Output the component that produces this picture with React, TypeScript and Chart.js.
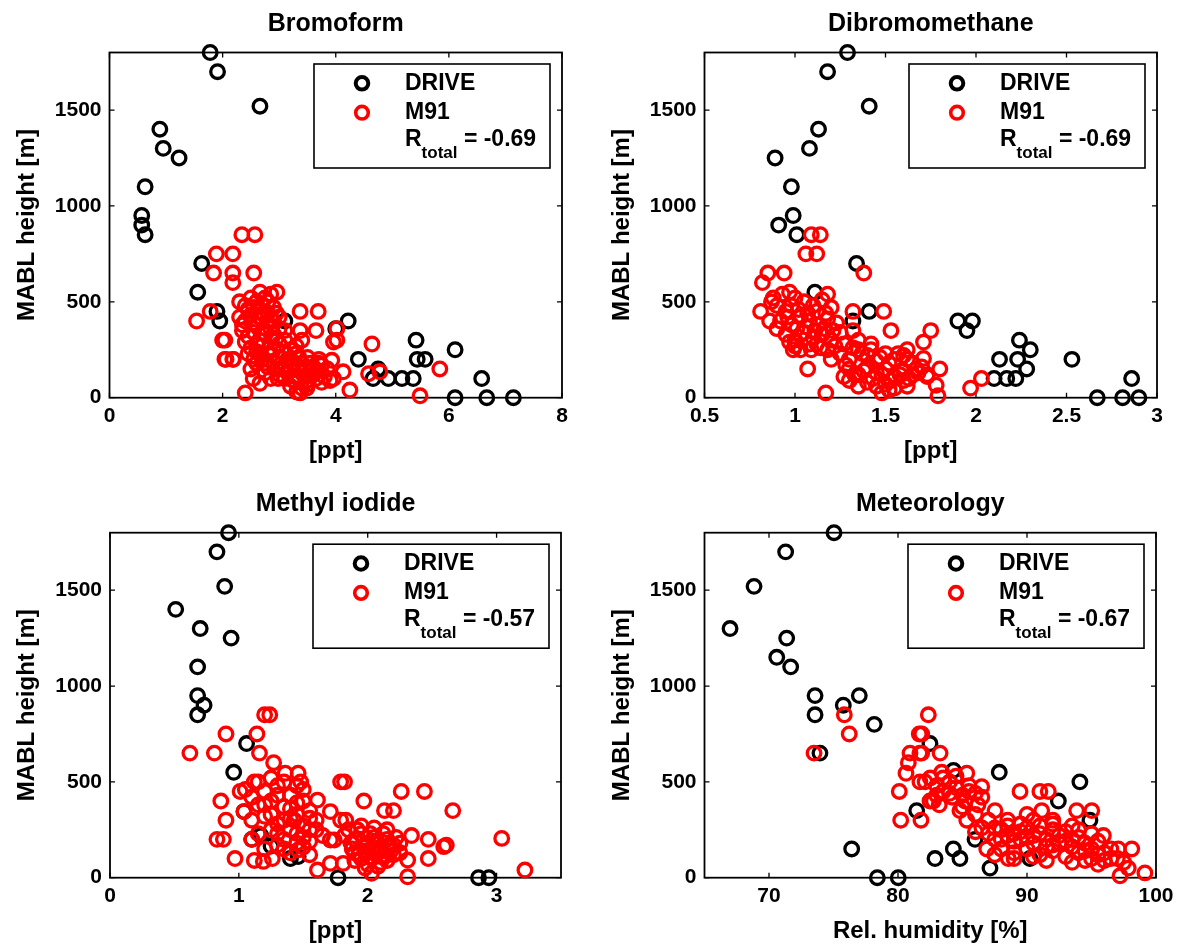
import React, { useEffect, useRef } from "react";
import { Chart, registerables } from "chart.js";

Chart.register(...registerables);

const FONT = "'Liberation Sans', Arial, Helvetica, sans-serif";

// ---------- shared axis data ----------
const yTicks = [0, 500, 1000, 1500];
const yMin = 0;
const yMax = 1800;
const yLabel = "MABL height [m]";
const seriesNames = ["DRIVE", "M91"];

// ---------- Bromoform ----------
const bromoTitle = "Bromoform";
const bromoXLabel = "[ppt]";
const bromoXTicks = [0, 2, 4, 6, 8];
const bromoXRange = [0, 8];
const bromoR = "-0.69";
const bromoDrive: [number, number][] = [
  [1.78, 1800], [1.91, 1700], [2.66, 1520], [0.89, 1400], [0.95, 1300], [1.23, 1250],
  [0.63, 1100], [0.57, 950], [0.57, 900], [0.63, 850], [1.63, 700], [1.56, 550],
  [1.9, 450], [1.95, 400], [3.1, 400], [4.0, 360], [4.22, 400], [4.4, 200],
  [4.66, 100], [4.75, 150], [4.93, 100], [5.17, 100], [5.37, 100], [5.42, 300],
  [5.44, 200], [5.58, 200], [6.11, 250], [6.58, 100], [6.11, 0], [6.67, 0], [7.14, 0],
];
const bromoM91: [number, number][] = [
  [2.34, 850], [2.57, 850], [1.89, 750], [2.18, 750], [1.84, 650], [2.18, 650], [2.18, 600],
  [2.55, 650], [1.54, 400], [1.78, 450], [2.0, 300], [2.06, 200], [2.18, 200], [2.4, 25],
  [2.54, 100], [2.66, 75], [3.37, 450], [3.69, 450], [3.37, 350], [3.65, 350], [3.96, 290],
  [3.9, 90], [3.31, 30], [3.49, 50], [4.02, 360], [4.02, 300], [4.64, 280], [4.13, 135],
  [4.25, 40], [4.58, 125], [4.78, 135], [5.84, 150], [5.49, 10], [3.93, 195], [3.96, 100],
  [2.66, 550], [2.96, 550], [3.69, 180], [2.98, 100], [3.28, 110], [3.37, 25],
  [2.3, 500], [2.4, 480], [2.5, 520], [2.6, 500], [2.7, 480], [2.8, 500], [2.9, 470],
  [2.3, 420], [2.4, 400], [2.5, 430], [2.6, 380], [2.7, 410], [2.8, 440], [2.9, 400],
  [3.0, 420], [2.35, 350], [2.45, 320], [2.55, 340], [2.65, 300], [2.75, 330], [2.85, 360],
  [2.95, 310], [2.5, 260], [2.6, 240], [2.7, 270], [2.8, 230], [2.9, 250], [3.0, 280],
  [3.1, 300], [2.6, 180], [2.7, 200], [2.8, 160], [2.9, 190], [3.0, 210], [3.1, 170],
  [3.2, 200], [3.3, 230], [3.4, 180], [3.5, 210], [3.6, 160], [3.7, 200], [3.0, 120],
  [3.1, 100], [3.2, 140], [3.3, 110], [3.4, 130], [3.5, 90], [3.6, 120], [3.7, 140],
  [3.8, 110], [3.2, 60], [3.3, 80], [3.4, 50], [3.5, 70], [3.2, 250], [3.3, 270],
  [3.1, 350], [3.4, 300], [2.75, 130], [2.85, 100], [2.04, 300], [2.04, 200], [2.19, 200],
  [2.45, 460], [2.55, 470], [2.65, 450], [2.75, 520], [2.85, 540], [2.35, 380], [2.55, 390],
  [2.65, 420], [2.85, 410], [2.95, 440], [2.4, 290], [2.6, 280], [2.7, 340], [2.9, 330],
  [3.0, 360], [2.55, 200], [2.65, 230], [2.75, 180], [2.85, 220], [2.95, 150], [3.05, 240],
  [3.15, 200], [3.25, 170], [3.35, 210], [3.45, 150], [3.55, 180], [3.65, 100], [3.75, 170],
  [3.05, 150], [3.15, 130], [3.25, 90], [3.35, 150], [3.45, 110], [3.55, 140], [3.75, 80],
  [2.5, 150], [2.45, 230], [3.85, 150],
];

// ---------- Dibromomethane ----------
const dibromoTitle = "Dibromomethane";
const dibromoXLabel = "[ppt]";
const dibromoXTicks = [0.5, 1, 1.5, 2, 2.5, 3];
const dibromoXRange = [0.5, 3];
const dibromoR = "-0.69";
const dibromoDrive: [number, number][] = [
  [1.29, 1800], [1.18, 1700], [1.41, 1520], [1.13, 1400], [1.08, 1300], [0.89, 1250],
  [0.98, 1100], [0.99, 950], [0.91, 900], [1.01, 850], [1.34, 700], [1.41, 450],
  [1.11, 550], [1.32, 400], [1.9, 400], [1.98, 400], [1.95, 350], [2.24, 300],
  [2.3, 250], [2.13, 200], [2.23, 200], [2.28, 150], [2.1, 100], [2.17, 100],
  [2.22, 100], [2.53, 200], [2.86, 100], [2.67, 0], [2.81, 0], [2.9, 0],
];
const dibromoM91: [number, number][] = [
  [1.09, 850], [1.14, 850], [1.06, 750], [1.12, 750], [1.38, 650], [0.85, 650], [0.94, 650],
  [0.82, 600], [0.81, 450], [0.86, 400], [1.49, 450], [1.53, 350], [1.32, 450], [1.32, 350],
  [1.18, 540], [0.97, 550], [0.87, 500], [0.99, 250], [1.09, 250], [1.07, 150], [1.17, 25],
  [1.48, 25], [1.52, 40], [1.71, 290], [1.73, 120], [1.75, 350], [1.71, 205], [1.8, 150],
  [1.73, 110], [1.78, 65], [1.79, 10], [1.97, 50], [2.03, 100],
  [0.9, 480], [0.95, 450], [1.0, 520], [1.05, 500], [1.1, 480], [1.15, 510], [1.2, 470],
  [0.92, 400], [0.98, 380], [1.03, 420], [1.08, 400], [1.13, 380], [1.18, 410], [1.23, 390],
  [0.95, 330], [1.0, 300], [1.05, 340], [1.1, 310], [1.15, 330], [1.2, 300], [1.25, 340],
  [1.0, 270], [1.12, 280],
  [1.25, 230], [1.3, 200], [1.35, 250], [1.4, 220], [1.45, 190], [1.5, 230], [1.55, 200],
  [1.6, 220], [1.65, 180], [1.3, 150], [1.35, 120], [1.4, 160], [1.45, 130], [1.5, 150],
  [1.55, 110], [1.6, 140], [1.65, 120], [1.7, 160], [1.3, 90], [1.4, 80], [1.5, 70],
  [1.6, 90], [1.45, 60], [1.55, 50], [1.2, 200], [1.28, 170], [1.62, 250], [1.35, 300],
  [1.42, 280],
  [0.88, 520], [0.93, 540], [0.98, 480], [1.02, 460], [1.07, 440], [1.12, 450], [1.17, 440],
  [0.9, 360], [0.96, 420], [1.01, 360], [1.06, 370], [1.11, 350], [1.16, 360], [1.21, 350],
  [0.97, 290], [1.03, 250], [1.08, 280], [1.14, 260], [1.18, 250], [1.22, 270], [1.27, 280],
  [1.32, 260], [1.37, 230], [1.42, 250], [1.47, 210], [1.52, 180], [1.57, 230], [1.62, 200],
  [1.67, 150], [1.33, 120], [1.38, 140], [1.43, 100], [1.48, 120], [1.53, 90], [1.58, 120],
  [1.63, 100], [1.68, 130], [1.27, 110], [1.35, 60], [1.62, 60],
];

// ---------- Methyl iodide ----------
const meiTitle = "Methyl iodide";
const meiXLabel = "[ppt]";
const meiXTicks = [0, 1, 2, 3];
const meiXRange = [0, 3.5];
const meiR = "-0.57";
const meiDrive: [number, number][] = [
  [0.92, 1800], [0.83, 1700], [0.89, 1520], [0.51, 1400], [0.7, 1300], [0.94, 1250],
  [0.68, 1100], [0.68, 950], [0.73, 900], [0.68, 850], [1.06, 700], [0.96, 550],
  [1.04, 345], [1.17, 220], [1.25, 165], [1.46, 110], [1.77, 0], [2.86, 0], [2.94, 0],
  [1.1, 200], [1.4, 100],
];
const meiM91: [number, number][] = [
  [1.2, 850], [1.24, 850], [0.9, 750], [1.14, 750], [0.62, 650], [0.81, 650], [1.16, 650],
  [1.27, 600], [0.86, 400], [0.9, 300], [0.83, 200], [0.88, 200], [0.97, 100], [1.12, 90],
  [1.19, 85], [1.26, 100], [1.46, 145], [1.61, 40], [1.71, 75], [1.79, 500], [1.48, 500],
  [1.36, 545], [1.46, 545], [1.01, 450], [1.12, 500], [1.04, 345], [1.43, 300], [1.71, 345],
  [1.61, 405], [1.55, 250], [1.71, 197], [1.79, 300], [1.82, 500], [2.26, 450], [2.44, 450],
  [1.97, 400], [2.13, 350], [2.2, 350], [2.66, 350], [1.83, 300], [1.74, 197], [2.34, 220],
  [2.47, 200], [2.59, 162], [2.61, 170], [2.47, 100], [2.31, 92], [2.03, 23], [2.31, 5],
  [3.04, 205], [3.22, 40], [1.81, 75],
  [1.1, 420], [1.2, 450], [1.3, 480], [1.4, 430], [1.5, 460], [1.15, 380], [1.25, 400],
  [1.35, 370], [1.45, 390], [1.55, 350], [1.1, 300], [1.2, 320], [1.3, 280], [1.4, 310],
  [1.5, 270], [1.6, 300], [1.15, 230], [1.25, 250], [1.35, 200], [1.45, 230], [1.55, 190],
  [1.65, 220], [1.2, 150], [1.3, 170], [1.4, 130], [1.5, 160], [1.1, 200],
  [1.85, 250], [1.9, 200], [1.95, 230], [2.0, 180], [2.05, 210], [2.1, 160], [2.15, 200],
  [2.2, 170], [1.88, 150], [1.93, 120], [1.98, 140], [2.03, 100], [2.08, 130], [2.13, 110],
  [2.18, 140], [2.25, 130], [1.9, 90], [2.0, 70], [2.1, 80], [1.95, 270], [2.05, 260],
  [2.15, 250], [2.25, 180],
  [1.05, 460], [1.15, 500], [1.25, 520], [1.35, 500], [1.45, 480], [1.3, 430], [1.2, 380],
  [1.4, 360], [1.5, 400], [1.25, 330], [1.35, 300], [1.45, 330], [1.55, 310], [1.3, 230],
  [1.4, 250], [1.5, 210], [1.6, 250], [1.35, 150], [1.45, 180], [1.55, 120], [1.82, 220],
  [1.87, 180], [1.92, 250], [1.97, 160], [2.02, 230], [2.07, 190], [2.12, 230], [2.17, 170],
  [2.22, 210], [1.9, 130], [1.95, 100], [2.0, 130], [2.05, 150], [2.1, 110], [2.15, 90],
  [2.2, 120], [1.98, 50], [2.08, 60],
];

// ---------- Meteorology ----------
const metTitle = "Meteorology";
const metXLabel = "Rel. humidity [%]";
const metXTicks = [70, 80, 90, 100];
const metXRange = [65, 100];
const metR = "-0.67";
const metDrive: [number, number][] = [
  [75.04, 1800], [71.29, 1700], [68.84, 1520], [66.98, 1300], [71.37, 1250], [70.6, 1150],
  [71.68, 1100], [73.57, 950], [73.57, 850], [75.76, 900], [77.0, 950], [78.16, 800],
  [73.95, 650], [76.41, 150], [78.4, 0], [80.02, 0], [81.45, 350], [82.48, 700],
  [84.3, 560], [87.85, 550], [94.1, 500], [92.43, 400], [85.97, 200], [82.87, 100],
  [84.29, 150], [84.8, 100], [87.13, 50], [90.23, 100], [94.88, 300],
];
const metM91: [number, number][] = [
  [75.84, 850], [76.22, 750], [73.49, 650], [82.35, 850], [81.65, 750], [80.93, 650],
  [81.7, 650], [80.8, 600], [80.62, 545], [81.7, 500], [80.1, 450], [80.21, 300],
  [81.78, 300], [82.48, 400], [81.84, 750], [81.84, 650], [83.26, 650], [83.39, 550],
  [82.1, 500], [82.74, 400], [85.33, 545], [86.49, 475], [85.33, 300], [87.52, 350],
  [89.46, 450], [91.0, 450], [91.65, 450], [91.14, 350], [93.85, 350], [95.02, 350],
  [86.88, 150], [88.55, 100], [95.92, 220], [97.08, 150], [98.12, 150], [97.21, 10],
  [99.14, 25], [97.85, 50],
  [82.5, 520], [83.0, 480], [83.5, 450], [84.0, 500], [84.5, 470], [85.0, 430], [85.5, 480],
  [86.0, 440], [83.2, 380], [84.2, 420], [85.2, 400], [86.2, 380], [84.8, 350],
  [86.5, 260], [87, 230], [87.5, 200], [88, 250], [88.5, 220], [89, 190], [89.5, 240],
  [90, 210], [90.5, 180], [91, 230], [91.5, 200], [92, 170], [92.5, 220], [93, 190],
  [93.5, 160], [94, 210], [94.5, 180], [95, 150], [95.5, 190], [96, 130], [88, 150],
  [89, 130], [90, 150], [91, 120], [92, 140], [93, 110], [94, 130], [95, 100], [96, 90],
  [89.5, 280], [90.5, 300], [92, 280], [93.5, 270], [88.5, 300], [87.5, 120], [96.5, 100],
  [97.5, 80], [86, 240],
  [83.5, 520], [84.5, 530], [85.5, 450], [86.5, 420], [84, 440], [83, 430], [85, 370],
  [86, 330], [87, 300], [87.5, 260], [88.5, 270], [89, 230], [90, 260], [91, 270],
  [92, 250], [93, 240], [94, 250], [95, 230], [88, 200], [89.5, 200], [90.5, 220],
  [91.5, 160], [92.5, 180], [93.5, 200], [94.5, 140], [95.5, 120], [96.5, 150], [89, 100],
  [90.5, 110], [91.5, 90], [93.5, 80], [94.5, 90], [95.5, 70], [97, 100], [92, 300], [90, 330],
];

type PanelDef = {
  title: string;
  xLabel: string;
  xTicks: number[];
  xRange: number[];
  r: string;
  drive: [number, number][];
  m91: [number, number][];
  box: { x: number; y: number; w: number; h: number }; // canvas box on page
  area: { l: number; t: number; r: number; b: number }; // chart area on page
};

const panels: PanelDef[] = [
  {
    title: bromoTitle, xLabel: bromoXLabel, xTicks: bromoXTicks, xRange: bromoXRange, r: bromoR,
    drive: bromoDrive, m91: bromoM91,
    box: { x: 0, y: 0, w: 590, h: 470 }, area: { l: 109.5, t: 52.5, r: 562, b: 397.7 },
  },
  {
    title: dibromoTitle, xLabel: dibromoXLabel, xTicks: dibromoXTicks, xRange: dibromoXRange, r: dibromoR,
    drive: dibromoDrive, m91: dibromoM91,
    box: { x: 590, y: 0, w: 591, h: 470 }, area: { l: 704.5, t: 52.5, r: 1157, b: 397.7 },
  },
  {
    title: meiTitle, xLabel: meiXLabel, xTicks: meiXTicks, xRange: meiXRange, r: meiR,
    drive: meiDrive, m91: meiM91,
    box: { x: 0, y: 470, w: 590, h: 477 }, area: { l: 110, t: 532.7, r: 561, b: 877.7 },
  },
  {
    title: metTitle, xLabel: metXLabel, xTicks: metXTicks, xRange: metXRange, r: metR,
    drive: metDrive, m91: metM91,
    box: { x: 590, y: 470, w: 591, h: 477 }, area: { l: 704.5, t: 532.7, r: 1156, b: 877.7 },
  },
];

const RED = "#ff0000";
const BLACK = "#000000";
const X_AXIS_H = 70;

function drawRing(ctx: CanvasRenderingContext2D, x: number, y: number, r: number, w: number, c: string) {
  ctx.beginPath();
  ctx.arc(x, y, r, 0, Math.PI * 2);
  ctx.lineWidth = w;
  ctx.strokeStyle = c;
  ctx.stroke();
}

function makePlugin(p: PanelDef) {
  return {
    id: "matlabFrame",
    beforeDatasetsDraw(chart: any) {
      const { ctx, chartArea } = chart;
      const { left, right, top, bottom } = chartArea;
      const xs = chart.scales.x;
      const ys = chart.scales.y;
      ctx.save();
      ctx.strokeStyle = BLACK;
      ctx.lineWidth = 1.8;
      ctx.strokeRect(left, top, right - left, bottom - top);
      ctx.beginPath();
      ctx.lineWidth = 1.3;
      const tl = 5;
      xs.ticks.forEach((t: any) => {
        const px = xs.getPixelForValue(t.value);
        ctx.moveTo(px, bottom);
        ctx.lineTo(px, bottom - tl);
        ctx.moveTo(px, top);
        ctx.lineTo(px, top + tl);
      });
      ys.ticks.forEach((t: any) => {
        const py = ys.getPixelForValue(t.value);
        ctx.moveTo(left, py);
        ctx.lineTo(left + tl, py);
        ctx.moveTo(right, py);
        ctx.lineTo(right - tl, py);
      });
      ctx.stroke();
      ctx.restore();
    },
    afterDraw(chart: any) {
      const { ctx, chartArea } = chart;
      const { left, right, top, bottom } = chartArea;
      const cx = (left + right) / 2;
      ctx.save();
      ctx.fillStyle = BLACK;
      // title
      ctx.font = `bold 25px ${FONT}`;
      ctx.textAlign = "center";
      ctx.textBaseline = "middle";
      ctx.fillText(p.title, cx, top - 28.5);
      // x label
      ctx.font = `bold 24px ${FONT}`;
      ctx.fillText(p.xLabel, cx, bottom + 54);
      // y label
      ctx.save();
      ctx.translate(left - 82.5, (top + bottom) / 2);
      ctx.rotate(-Math.PI / 2);
      ctx.fillText(yLabel, 0, 0);
      ctx.restore();

      // legend
      const bx = right - 248;
      const by = top + 11.5;
      const bw = 236;
      const bh = 104;
      ctx.fillStyle = "#ffffff";
      ctx.fillRect(bx, by, bw, bh);
      ctx.strokeStyle = BLACK;
      ctx.lineWidth = 1.6;
      ctx.strokeRect(bx, by, bw, bh);
      const mx = right - 200;
      drawRing(ctx, mx, top + 30.8, 6.3, 4, BLACK);
      drawRing(ctx, mx, top + 60.2, 6.3, 3.6, RED);
      ctx.fillStyle = BLACK;
      ctx.textAlign = "left";
      ctx.textBaseline = "middle";
      ctx.font = `bold 23px ${FONT}`;
      const tx = right - 157;
      ctx.fillText(seriesNames[0], tx, top + 30.8);
      ctx.fillText(seriesNames[1], tx, top + 60.2);
      ctx.textBaseline = "alphabetic";
      ctx.fillText("R", tx, top + 93);
      const rw = ctx.measureText("R").width;
      ctx.font = `bold 17px ${FONT}`;
      ctx.fillText("total", tx + rw, top + 105);
      const sw = ctx.measureText("total").width;
      ctx.font = `bold 23px ${FONT}`;
      ctx.fillText(" = " + p.r, tx + rw + sw, top + 93);
      ctx.restore();
    },
  };
}

function Panel({ p }: { p: PanelDef }) {
  const ref = useRef<HTMLCanvasElement | null>(null);
  useEffect(() => {
    if (!ref.current) return;
    const { box, area } = p;
    const yAxisW = area.l - box.x;
    const padTop = area.t - box.y;
    const padRight = box.x + box.w - area.r;
    const padBottom = box.y + box.h - area.b - X_AXIS_H;
    const tickFont = { family: FONT, size: 21, weight: "bold" as const };
    const chart = new Chart(ref.current, {
      type: "scatter",
      data: {
        datasets: [
          {
            label: seriesNames[1],
            data: p.m91.map(([x, y]) => ({ x, y })),
            borderColor: RED,
            backgroundColor: "rgba(0,0,0,0)",
            pointRadius: 6.8,
            pointBorderWidth: 3.3,
            pointHoverRadius: 6.8,
            clip: false as any,
            order: 0,
          },
          {
            label: seriesNames[0],
            data: p.drive.map(([x, y]) => ({ x, y })),
            borderColor: BLACK,
            backgroundColor: "rgba(0,0,0,0)",
            pointRadius: 6.8,
            pointBorderWidth: 3.3,
            pointHoverRadius: 6.8,
            clip: false as any,
            order: 1,
          },
        ],
      },
      options: {
        animation: false,
        responsive: false,
        events: [],
        layout: {
          autoPadding: false,
          padding: { left: 0, top: padTop, right: padRight, bottom: padBottom },
        },
        plugins: { legend: { display: false }, tooltip: { enabled: false }, title: { display: false } },
        scales: {
          x: {
            type: "linear",
            min: p.xRange[0],
            max: p.xRange[1],
            grid: { display: false, drawTicks: false },
            border: { display: false },
            afterBuildTicks: (s: any) => {
              s.ticks = p.xTicks.map((v) => ({ value: v }));
            },
            afterFit: (s: any) => {
              s.height = X_AXIS_H;
            },
            ticks: {
              color: BLACK,
              font: tickFont,
              padding: 6,
              maxRotation: 0,
              autoSkip: false,
              callback: (v: any) => String(v),
            },
          },
          y: {
            type: "linear",
            min: yMin,
            max: yMax,
            grid: { display: false, drawTicks: false },
            border: { display: false },
            afterBuildTicks: (s: any) => {
              s.ticks = yTicks.map((v) => ({ value: v }));
            },
            afterFit: (s: any) => {
              s.width = yAxisW;
            },
            ticks: {
              color: BLACK,
              font: tickFont,
              padding: 8,
              autoSkip: false,
              callback: (v: any) => String(v),
            },
          },
        },
      },
      plugins: [makePlugin(p) as any],
    });
    return () => chart.destroy();
  }, [p]);
  return (
    <canvas
      ref={ref}
      width={p.box.w}
      height={p.box.h}
      style={{ position: "absolute", left: p.box.x, top: p.box.y, width: p.box.w, height: p.box.h }}
    />
  );
}

export default function App() {
  return (
    <div style={{ position: "absolute", left: 0, top: 0, width: 1181, height: 947, background: "#fff", overflow: "hidden" }}>
      {panels.map((p) => (
        <Panel key={p.title} p={p} />
      ))}
    </div>
  );
}
